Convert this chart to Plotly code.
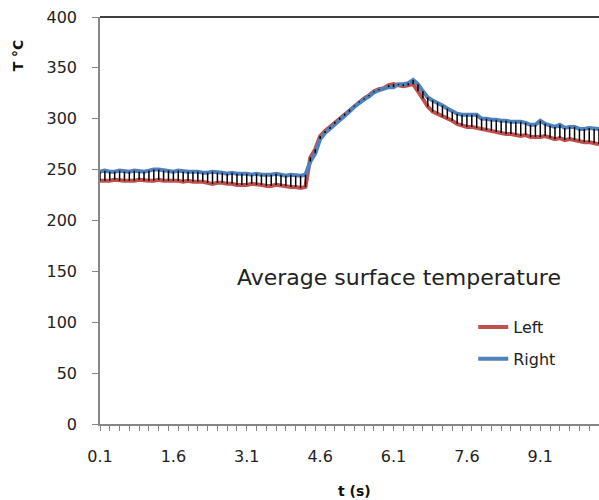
import plotly.graph_objects as go

# time categories (s)
t = [round(0.1 * (i + 1), 1) for i in range(103)]

right = [248, 249, 248, 248, 249, 248, 248, 249, 248, 248,
         249, 250, 250, 249, 249, 248, 249, 248, 248, 248,
         248, 247, 247, 248, 247, 247, 246, 247, 246, 246,
         246, 245, 246, 245, 245, 245, 246, 245, 244, 245,
         244, 244, 245,
         258, 266, 280, 286, 290, 295, 299, 303, 307, 312,
         316, 319, 322, 326, 328, 330, 331, 331, 334, 334,
         335, 338, 334, 327, 321, 318, 316, 313, 310, 307,
         305, 304, 304, 304, 304, 300, 300, 299, 299, 298,
         298, 297, 297, 297, 296, 294, 294, 298, 295, 293,
         292, 294, 291, 292, 292, 290, 290, 291, 290, 290]

left = [239, 239, 239, 240, 239, 239, 239, 239, 240, 239,
        239, 239, 240, 239, 239, 239, 239, 238, 239, 238,
        238, 238, 237, 236, 237, 237, 236, 236, 235, 235,
        235, 236, 235, 235, 234, 234, 235, 234, 234, 233,
        233, 232, 233,
        262, 270, 283, 288, 292, 297, 301, 305, 309, 313,
        317, 320, 323, 327, 329, 330, 333, 334, 333, 332,
        333, 334, 327, 320, 312, 307, 305, 302, 300, 298,
        295, 293, 292, 292, 291, 289, 289, 288, 287, 286,
        285, 285, 284, 283, 284, 282, 282, 282, 283, 281,
        280, 281, 279, 280, 279, 278, 277, 277, 276, 275]

x_ticks = [0.1, 1.6, 3.1, 4.6, 6.1, 7.6, 9.1]
x_tick_text = ["0.1", "1.6", "3.1", "4.6", "6.1", "7.6", "9.1"]
y_ticks = [0, 50, 100, 150, 200, 250, 300, 350, 400]

# high-low connector segments between the two series
seg_x, seg_y = [], []
for xi, lo, hi in zip(t, left, right):
    seg_x += [xi, xi, None]
    seg_y += [lo, hi, None]

FONT = "DejaVu Sans"
AX = "#868686"

fig = go.Figure()
fig.add_trace(go.Scatter(x=t, y=left, mode="lines", name="Left",
                         line=dict(color="#C0504D", width=4),
                         legendgroup="a"))
fig.add_trace(go.Scatter(x=t, y=right, mode="lines", name="Right",
                         line=dict(color="#4F81BD", width=4),
                         legendgroup="b"))
fig.add_trace(go.Scatter(x=seg_x, y=seg_y, mode="lines", showlegend=False,
                         line=dict(color="black", width=1.5),
                         hoverinfo="skip"))

fig.update_layout(
    width=599, height=500,
    margin=dict(l=100, r=0, t=17, b=76),
    paper_bgcolor="white", plot_bgcolor="white",
    font=dict(family=FONT, color="#222222"),
    showlegend=True,
    legend=dict(x=0.748, y=0.28, xanchor="left", yanchor="top",
                bgcolor="rgba(0,0,0,0)", font=dict(size=16, color="#222222"),
                tracegroupgap=8),
    xaxis=dict(range=[0.1, 10.3], tickvals=x_ticks, ticktext=x_tick_text,
               ticks="", showgrid=False, zeroline=False,
               showline=True, linecolor=AX, linewidth=1.5,
               tickfont=dict(size=16, color="#222222"),
               ticklabelstandoff=17,
               minor=dict(tick0=0.1, dtick=0.2, ticks="outside", ticklen=5,
                          tickcolor=AX, showgrid=False)),
    yaxis=dict(range=[0, 400], tickvals=y_ticks, ticks="outside", ticklen=6,
               tickcolor=AX, showgrid=False, zeroline=False,
               showline=True, linecolor=AX, linewidth=1.5,
               tickfont=dict(size=16, color="#222222"),
               ticklabelstandoff=12),
    shapes=[dict(type="line", xref="paper", yref="paper", x0=0, x1=1,
                 y0=1, y1=1, line=dict(color="black", width=1.5))],
    annotations=[
        dict(text="Average surface temperature", xref="paper", yref="paper",
             x=0.599, y=0.361, showarrow=False, xanchor="center",
             yanchor="middle", font=dict(size=22, color="#222222")),
        dict(text="<b>T °C</b>", xref="paper", yref="paper", x=-0.165,
             y=0.905, textangle=-90, showarrow=False, xanchor="center",
             yanchor="middle", font=dict(size=14, color="#111111")),
        dict(text="<b>t (s)</b>", xref="paper", yref="paper", x=0.511,
             y=-0.165, showarrow=False, xanchor="center", yanchor="middle",
             font=dict(size=14, color="#111111")),
    ],
)

fig.write_html("out.html",
               config={"displayModeBar": False},
               post_script="document.body.style.margin='0';"
                           "document.body.style.overflow='hidden';")
